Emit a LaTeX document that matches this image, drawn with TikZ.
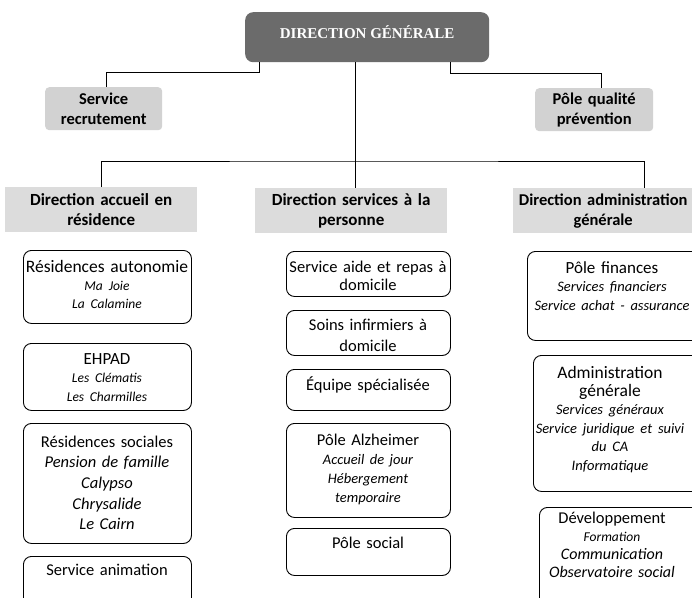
\documentclass[tikz,border=0pt]{standalone}
\usepackage{fontspec}
\setmainfont{Carlito}
\newfontfamily\dgfont{Liberation Serif}
\definecolor{dgfill}{HTML}{6B6B6B}
\definecolor{lightfill}{HTML}{D2D2D2}
\definecolor{headfill}{HTML}{DCDCDC}
\newcommand{\Sit}[1]{{\itshape\fontsize{13.5}{18}\selectfont #1}}
\newcommand{\Mit}[1]{{\itshape\fontsize{14.5}{18}\selectfont #1}}
\newcommand{\Bit}[1]{{\itshape\fontsize{16}{18}\selectfont #1}}
\newcommand{\Lit}[1]{{\itshape #1}}
\begin{document}
\begin{tikzpicture}[x=1pt,y=-1pt,
  itembox/.style={draw=black,line width=0.9pt,rounded corners=8pt,anchor=north west,inner sep=0pt},
  txt/.style={anchor=base,align=center,text width=220pt,inner sep=0pt,font=\fontsize{16.5}{18}\selectfont},
  headbox/.style={fill=headfill,anchor=north west,inner sep=0pt,align=center,text width=#1,minimum width=#1,minimum height=45pt,font=\bfseries\fontsize{17}{20}\selectfont},
  lightbox/.style={fill=lightfill,rounded corners=4pt,anchor=north west,inner sep=0pt,align=center,text width=#1,minimum width=#1,minimum height=43pt,font=\bfseries\fontsize{16.5}{20}\selectfont},
  conn/.style={draw=black,line width=1pt}]
\useasboundingbox (0,0) rectangle (692,597);
\clip (0,0) rectangle (692,597);
\fill[white] (0,0) rectangle (692,597);

% top
\node[fill=dgfill,rounded corners=8pt,anchor=north west,minimum width=244pt,minimum height=50pt,inner sep=0pt,text height=10pt,text depth=8pt,text=white,font=\dgfont\bfseries\fontsize{15}{17}\selectfont] (dg) at (245,12) {DIRECTION GÉNÉRALE};
\node[lightbox=117pt] (sr) at (45,87) {Service\\recrutement};
\node[lightbox=118pt] (pq) at (535,88) {Pôle qualité\\prévention};

% headers
\node[headbox=192pt] (h1) at (5,187) {Direction accueil en\\résidence};
\node[headbox=192pt] (h2) at (255,188) {Direction services à la\\personne};
\node[headbox=180pt,font=\bfseries\fontsize{16.5}{20}\selectfont] (h3) at (513,188) {Direction administration\\générale};
\fill[headfill] (h3.north east) rectangle (h3.south east -| 692,0);

% connectors
\coordinate (mid) at (355,161);
\coordinate (busR) at (644,161);
\draw[conn] ([xshift=14pt]dg.south west) -- ++(0,10) -| ([xshift=3pt]sr.north);
\draw[conn] ([xshift=-39pt]dg.south east) -- ++(0,11) -| ([xshift=7pt]pq.north);
\draw[conn] (mid |- dg.south) -- (mid |- h2.north);
\draw[conn] (h1.north) |- (mid) -- (busR) -- (busR |- h3.north);

% column 1
\node[itembox,minimum width=168pt,minimum height=73pt] (b11) at (23,250) {};
\node[txt,font=\fontsize{17.5}{18}\selectfont] (t11) at (107,272) {Résidences autonomie\\\Sit{Ma Joie}\\\Sit{La Calamine}};
\node[itembox,minimum width=168pt,minimum height=67pt] (b12) at (23,343) {};
\node[txt,font=\fontsize{17}{18.5}\selectfont] (t12) at (107,364) {EHPAD\\\Sit{Les Clématis}\\\Sit{Les Charmilles}};
\node[itembox,minimum width=168pt,minimum height=120pt] (b13) at (23,423) {};
\node[txt,font=\fontsize{16.5}{20.7}\selectfont] (t13) at (107,447) {Résidences sociales\\\Lit{Pension de famille}\\\Lit{Calypso}\\\Lit{Chrysalide}\\\Lit{Le Cairn}};
\node[itembox,minimum width=168pt,minimum height=70pt] (b14) at (23,556) {};
\node[txt] (t14) at (107,575) {Service animation};

% column 2
\node[itembox,minimum width=164pt,minimum height=45pt] (b21) at (286,251) {};
\node[txt] (t21) at (368,272) {Service aide et repas à\\domicile};
\node[itembox,minimum width=164pt,minimum height=45pt] (b22) at (286,310) {};
\node[txt,font=\fontsize{16.5}{21}\selectfont] (t22) at (368,330) {Soins infirmiers à\\domicile};
\node[itembox,minimum width=164pt,minimum height=41pt] (b23) at (286,369) {};
\node[txt] (t23) at (368,390) {Équipe spécialisée};
\node[itembox,minimum width=164pt,minimum height=94pt] (b24) at (286,423) {};
\node[txt,font=\fontsize{16.5}{19}\selectfont] (t24) at (368,445) {Pôle Alzheimer\\\Mit{Accueil de jour}\\\Mit{Hébergement}\\\Mit{temporaire}};
\node[itembox,minimum width=164pt,minimum height=47pt] (b25) at (286,528) {};
\node[txt] (t25) at (368,548) {Pôle social};

% column 3
\node[itembox,minimum width=175pt,minimum height=89pt] (b31) at (527,251) {};
\node[txt,font=\fontsize{17}{18.5}\selectfont] (t31) at (612,273) {Pôle finances\\\Mit{Services financiers}\\\Mit{Service achat - assurance}};
\node[itembox,minimum width=170pt,minimum height=136pt] (b32) at (533,355) {};
\node[txt,font=\fontsize{17.5}{18.4}\selectfont] (t32) at (610,378) {Administration\\générale\\\Mit{Services généraux}\\\Mit{Service juridique et suivi}\\\Mit{du CA}\\\Mit{Informatique}};
\node[itembox,minimum width=165pt,minimum height=120pt] (b33) at (539,507) {};
\node[txt,font=\fontsize{16.5}{18}\selectfont] (t33) at (612,523) {Développement\\\Sit{Formation}\\\Bit{Communication}\\\Bit{Observatoire social}};
\end{tikzpicture}
\end{document}
